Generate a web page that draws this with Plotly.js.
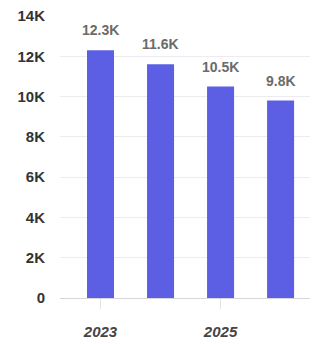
<!DOCTYPE html>
<html><head><meta charset="utf-8">
<script src="https://cdn.plot.ly/plotly-3.0.1.min.js"></script>
<style>html,body{margin:0;padding:0;background:#fff}#chart{width:320px;height:344px}</style>
</head><body><div id="chart"></div>
<script>
const years = [2023, 2024, 2025, 2026];
const values = [12300, 11600, 10500, 9800];
const labels = ["12.3K", "11.6K", "10.5K", "9.8K"];
const yTickVals = [0, 2000, 4000, 6000, 8000, 10000, 12000, 14000];
const yTickText = ["0", "2K", "4K", "6K", "8K", "10K", "12K", "14K"];
const xTickVals = [2023, 2025];

const annotations = years.map((yr, i) => ({
  x: yr, y: values[i], text: labels[i], showarrow: false,
  xanchor: 'center', yanchor: 'bottom', yshift: 10,
  font: {family: 'Liberation Sans, Arial, sans-serif', size: 14, color: '#6b6b6b', weight: 'bold'}
}));

Plotly.newPlot('chart', [{
  type: 'bar', x: years, y: values,
  marker: {color: '#5c5fe3'}, width: 0.45, hoverinfo: 'none'
}], {
  width: 320, height: 344,
  margin: {l: 60, r: 10, t: 16, b: 46},
  paper_bgcolor: '#fff', plot_bgcolor: '#fff',
  showlegend: false,
  annotations: annotations,
  font: {family: 'Liberation Sans, Arial, sans-serif'},
  xaxis: {
    range: [2022.325, 2026.49], tickvals: xTickVals, ticktext: xTickVals.map(String),
    showgrid: false, zeroline: false, showline: true, linecolor: '#d6d6dc', linewidth: 1,
    ticks: 'outside', ticklen: 10, tickcolor: '#e4e4e8', ticklabelstandoff: 10,
    tickfont: {size: 15, color: '#444', weight: 'bold', style: 'italic'}
  },
  yaxis: {
    range: [0, 14000], tickvals: yTickVals, ticktext: yTickText,
    showgrid: true, gridcolor: '#ececf0', zeroline: false, showline: false,
    ticks: '', ticklabelstandoff: 14,
    tickfont: {size: 15, color: '#333', weight: 'bold'}
  }
}, {displayModeBar: false, staticPlot: true});
</script></body></html>
